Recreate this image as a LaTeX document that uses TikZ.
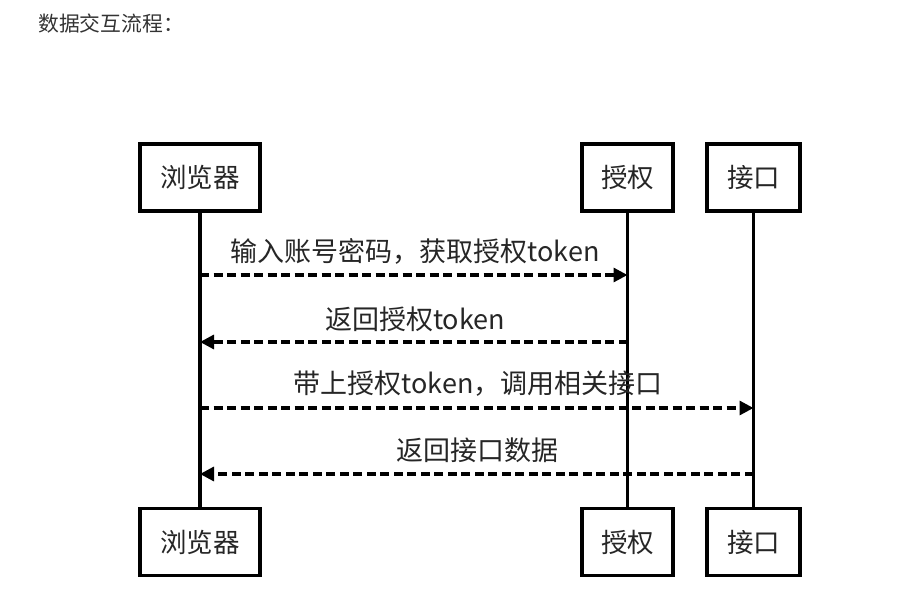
\documentclass[tikz,border=0pt]{standalone}
\usepackage{fontspec}
\setmainfont{Noto Sans CJK SC}
\usetikzlibrary{arrows.meta}
\begin{document}
\begin{tikzpicture}[x=1pt,y=-1pt,
  actor/.style={draw=black,line width=3.6pt,fill=white,minimum height=67pt,inner sep=0pt,font=\fontsize{26.5}{30}\selectfont,text=black!85},
  lifeline/.style={line width=3.2pt},
  msg/.style={line width=3.2pt,dash pattern=on 9pt off 4.5pt,-{Triangle[length=14pt,width=14pt]}},
  msglabel/.style={font=\fontsize{27}{31}\selectfont,text=black!85,inner sep=0pt}]
\useasboundingbox (0,0) rectangle (921,602);
\node[anchor=west,font=\fontsize{20.8}{25}\selectfont,text=black!80,inner sep=0pt] (title) at (38,24) {数据交互流程：};
% participants, top and bottom
\node[actor,minimum width=120pt] (bt) at (200,177.5) {浏览器};
\node[actor,minimum width=91pt] (at) at (627.5,177.5) {授权};
\node[actor,minimum width=93pt] (it) at (753.5,177.5) {接口};
\node[actor,minimum width=120pt] (bb) at (200,542) {浏览器};
\node[actor,minimum width=91pt] (ab) at (627.5,542) {授权};
\node[actor,minimum width=93pt] (ib) at (753.5,542) {接口};
% lifelines
\draw[lifeline] (bt.south) -- (bb.north);
\draw[lifeline] (at.south) -- (ab.north);
\draw[lifeline] (it.south) -- (ib.north);
% message end points on the lifelines
\coordinate (m1a) at (200,275); \coordinate (m1b) at (627.5,275);
\coordinate (m2a) at (627.5,342); \coordinate (m2b) at (200,342);
\coordinate (m3a) at (200,408); \coordinate (m3b) at (753.5,408);
\coordinate (m4a) at (753.5,474); \coordinate (m4b) at (200,474);
\draw[msg] (m1a) -- (m1b);
\draw[msg] (m2a) -- (m2b);
\draw[msg] (m3a) -- (m3b);
\draw[msg] (m4a) -- (m4b);
\node[msglabel] (l1) at (415,251) {输入账号密码，获取授权token};
\node[msglabel] (l2) at (415,319) {返回授权token};
\node[msglabel] (l3) at (478,384) {带上授权token，调用相关接口};
\node[msglabel] (l4) at (477,450) {返回接口数据};
\end{tikzpicture}
\end{document}
